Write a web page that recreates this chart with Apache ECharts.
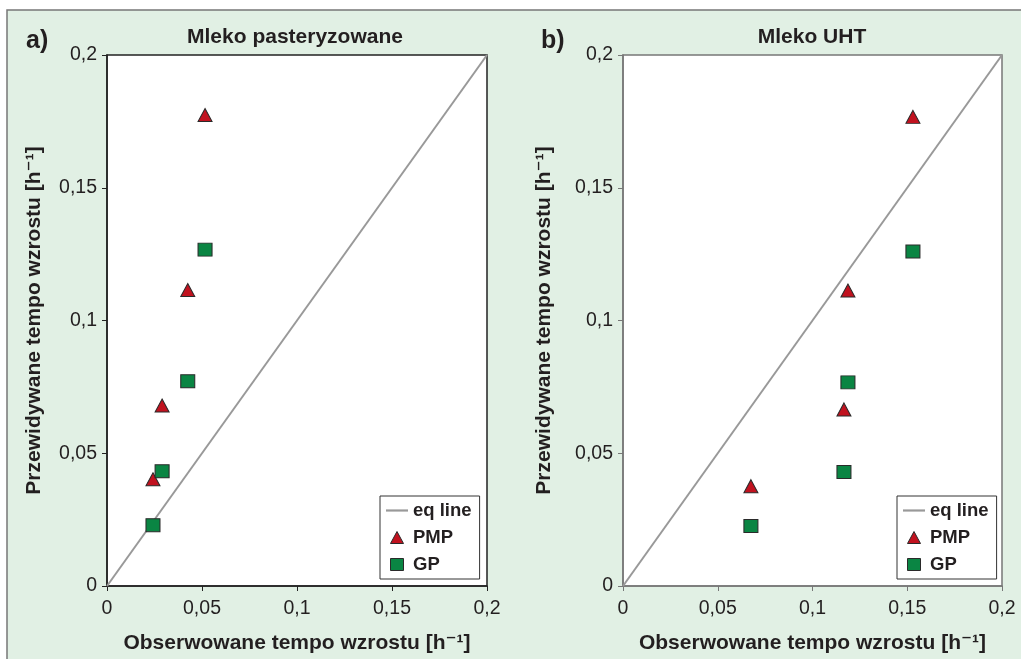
<!DOCTYPE html>
<html>
<head>
<meta charset="utf-8">
<script src="https://cdn.jsdelivr.net/npm/echarts@6/dist/echarts.min.js"></script>
<style>
  html, body { margin: 0; padding: 0; background: #fff; }
  #main { width: 1021px; height: 659px; }
</style>
</head>
<body>
<div id="main"></div>
<script>
// a) Mleko pasteryzowane
const pastObsPMP = [0.0516, 0.0425, 0.029, 0.0242];
const pastPredPMP = [0.1774, 0.1115, 0.068, 0.0402];
const pastObsGP = [0.0516, 0.0425, 0.029, 0.0242];
const pastPredGP = [0.1267, 0.0771, 0.0432, 0.0229];

// b) Mleko UHT
const uhtObsPMP = [0.153, 0.1187, 0.1166, 0.0675];
const uhtPredPMP = [0.1767, 0.1113, 0.0665, 0.0376];
const uhtObsGP = [0.153, 0.1187, 0.1166, 0.0675];
const uhtPredGP = [0.126, 0.0767, 0.0429, 0.0226];

const eqLine = [[0, 0], [0.2, 0.2]];

const FONT = '"Liberation Sans", Arial, "DejaVu Sans", sans-serif';
const TXT = '#231f20';

const pairs = (xs, ys) => xs.map((x, i) => [x, ys[i]]);
const fmt = v => String(Math.round(v * 1000) / 1000).replace('.', ',');

const panels = [
  {left: 107, width: 380, frame: '#222', gapY: 62},
  {left: 623, width: 379, frame: '#777', gapY: 68}
];

const makeAxis = (i, isY) => ({
  type: 'value',
  gridIndex: i,
  min: 0,
  max: 0.2,
  interval: 0.05,
  name: isY ? 'Przewidywane tempo wzrostu [h\u207B\u00B9]' : 'Obserwowane tempo wzrostu [h\u207B\u00B9]',
  nameLocation: 'middle',
  nameGap: isY ? panels[i].gapY : 47,
  nameTextStyle: {fontFamily: FONT, fontSize: 21, fontWeight: 'bold', color: TXT},
  splitLine: {show: false},
  axisLine: {lineStyle: {color: panels[i].frame, width: 1.5}},
  axisTick: {inside: false, length: 5, lineStyle: {color: panels[i].frame}},
  axisLabel: {
    fontFamily: FONT, fontSize: 19.5, color: TXT,
    margin: isY ? 10 : 13,
    formatter: fmt
  }
});

const triStyle = {color: '#c1121f', borderColor: '#2a2a2a', borderWidth: 1, opacity: 1};
const sqStyle = {color: '#0a8543', borderColor: '#2a2a2a', borderWidth: 1, opacity: 1};

const makeSeries = (i, pmp, gp) => [
  {
    name: 'eq line', type: 'line', xAxisIndex: i, yAxisIndex: i,
    data: eqLine, symbol: 'none', itemStyle: {color: '#999'},
    lineStyle: {color: '#999', width: 2}, z: 1
  },
  {
    name: 'PMP', type: 'scatter', xAxisIndex: i, yAxisIndex: i,
    data: pmp, symbol: 'triangle', symbolSize: [14, 13], itemStyle: triStyle, z: 3
  },
  {
    name: 'GP', type: 'scatter', xAxisIndex: i, yAxisIndex: i,
    data: gp, symbol: 'rect', symbolSize: [14, 13], itemStyle: sqStyle, z: 3
  }
];

const makeLegend = left => ({
  orient: 'vertical',
  left: left,
  top: 496,
  data: [
    {name: 'eq line', icon: 'path://M0,0 L22,0 L22,2.2 L0,2.2 Z', itemStyle: {color: '#999', borderWidth: 0}},
    {name: 'PMP', icon: 'path://M6.5,0 L13,12 L0,12 Z', itemStyle: triStyle},
    {name: 'GP', icon: 'path://M0,0 L13,0 L13,12 L0,12 Z', itemStyle: sqStyle}
  ],
  symbolKeepAspect: true,
  backgroundColor: '#fff',
  borderColor: '#333',
  borderWidth: 1,
  borderRadius: 0,
  padding: [5, 8, 5, 6],
  itemGap: 8,
  itemWidth: 22,
  itemHeight: 12,
  textStyle: {fontFamily: FONT, fontSize: 18.5, fontWeight: 'bold', color: TXT}
});

const chart = echarts.init(document.getElementById('main'));
chart.setOption({
  animation: false,
  backgroundColor: '#fff',
  graphic: [{
    type: 'rect', z: -10,
    shape: {x: 7, y: 10, width: 1100, height: 700},
    style: {fill: '#e1f0e4', stroke: '#777', lineWidth: 1.5}
  }],
  title: [
    {text: 'a)', left: 21, top: 24, textStyle: {fontFamily: FONT, fontSize: 25, fontWeight: 'bold', color: TXT}},
    {text: 'Mleko pasteryzowane', left: 290, top: 22, textAlign: 'center',
      textStyle: {fontFamily: FONT, fontSize: 21, fontWeight: 'bold', color: TXT}},
    {text: 'b)', left: 536, top: 24, textStyle: {fontFamily: FONT, fontSize: 25, fontWeight: 'bold', color: TXT}},
    {text: 'Mleko UHT', left: 807, top: 22, textAlign: 'center',
      textStyle: {fontFamily: FONT, fontSize: 21, fontWeight: 'bold', color: TXT}}
  ],
  legend: [makeLegend(380), makeLegend(897)],
  grid: panels.map(p => ({
    left: p.left, top: 55, width: p.width, height: 532,
    show: true, backgroundColor: '#fff', borderColor: p.frame, borderWidth: 1.5
  })),
  xAxis: [makeAxis(0, false), makeAxis(1, false)],
  yAxis: [makeAxis(0, true), makeAxis(1, true)],
  series: [
    ...makeSeries(0, pairs(pastObsPMP, pastPredPMP), pairs(pastObsGP, pastPredGP)),
    ...makeSeries(1, pairs(uhtObsPMP, uhtPredPMP), pairs(uhtObsGP, uhtPredGP))
  ]
});
</script>
</body>
</html>
